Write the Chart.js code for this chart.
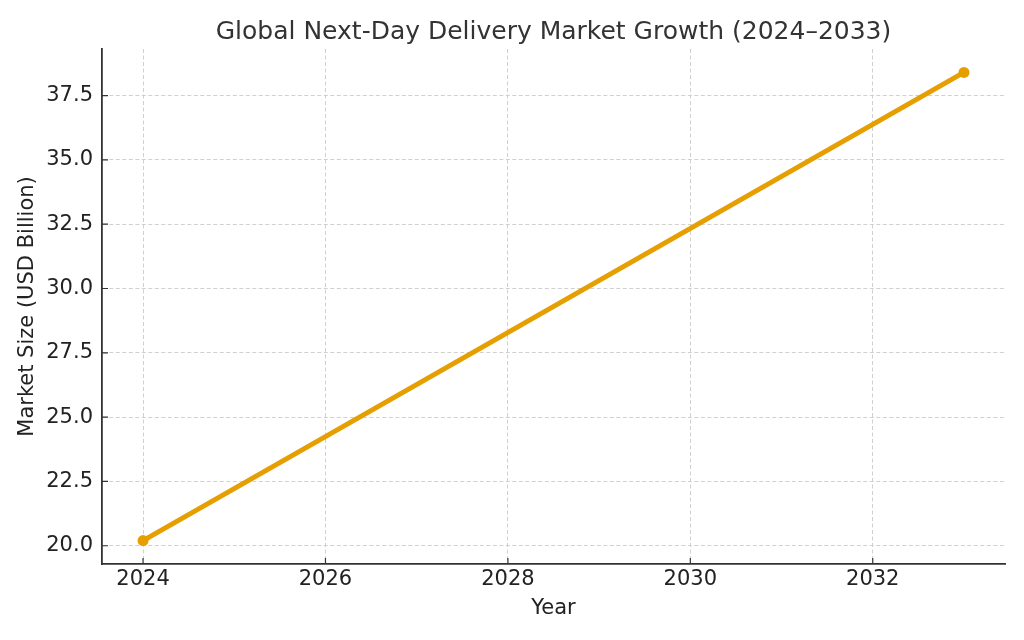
<!DOCTYPE html>
<html><head><meta charset="utf-8">
<script src="https://cdn.jsdelivr.net/npm/chart.js@4/dist/chart.umd.min.js"></script>
<style>html,body{margin:0;padding:0;background:#fff}#wrap{width:1024px;height:640px}</style>
</head><body><div id="wrap"><canvas id="c" width="1024" height="640"></canvas></div>
<script>
const years = [2024, 2033];
const marketSize = [20.2, 38.4];
const xTicks = [2024, 2026, 2028, 2030, 2032];
const yTicks = [20.0, 22.5, 25.0, 27.5, 30.0, 32.5, 35.0, 37.5];
const titleText = 'Global Next-Day Delivery Market Growth (2024–2033)';
const xTitle = 'Year';
const yTitle = 'Market Size (USD Billion)';

const FONT = "'DejaVu Sans', sans-serif";
const inwardTicks = {
  id: 'inwardTicks',
  afterDraw(chart) {
    const {ctx, chartArea: a, scales: {x, y}} = chart;
    ctx.save();
    ctx.strokeStyle = '#333';
    ctx.lineWidth = 1.2;
    ctx.beginPath();
    x.ticks.forEach(t => { const p = x.getPixelForValue(t.value); ctx.moveTo(p, a.bottom); ctx.lineTo(p, a.bottom - 6); });
    y.ticks.forEach(t => { const p = y.getPixelForValue(t.value); ctx.moveTo(a.left, p); ctx.lineTo(a.left + 6, p); });
    ctx.stroke();
    // title centred over the plot area (matplotlib style)
    ctx.fillStyle = '#333';
    ctx.font = "25px " + FONT;
    ctx.textAlign = 'center';
    ctx.textBaseline = 'alphabetic';
    ctx.fillText(titleText, (a.left + a.right) / 2, 38.5);
    ctx.restore();
  }
};

new Chart(document.getElementById('c'), {
  type: 'line',
  data: {
    datasets: [{
      data: years.map((yr, i) => ({x: yr, y: marketSize[i]})),
      borderColor: '#E69F00',
      backgroundColor: '#E69F00',
      borderWidth: 5,
      pointRadius: 5.5,
      pointBorderWidth: 0,
      pointHoverRadius: 5.5,
      borderCapStyle: 'round'
    }]
  },
  options: {
    responsive: false,
    animation: false,
    events: [],
    layout: {padding: {left: 0, right: 19, top: 49, bottom: 0}},
    plugins: {
      legend: {display: false},
      tooltip: {enabled: false},
      title: {display: false}
    },
    scales: {
      x: {
        type: 'linear', min: 2023.55, max: 2033.45,
        afterBuildTicks: s => { s.ticks = xTicks.map(v => ({value: v})); },
        afterFit: s => { s.height = 76; },
        ticks: {color: '#222', font: {family: FONT, size: 21}, padding: 3, callback: v => String(v)},
        grid: {color: '#d0d0d0', lineWidth: 1, drawTicks: false},
        border: {display: true, color: '#333', width: 1.8, dash: [4, 2.5]},
        title: {display: true, text: xTitle, color: '#222', font: {family: FONT, size: 21}, padding: {top: 4, bottom: 19}}
      },
      y: {
        type: 'linear', min: 19.29, max: 39.31,
        afterBuildTicks: s => { s.ticks = yTicks.map(v => ({value: v})); },
        afterFit: s => { s.width = 102; },
        ticks: {color: '#222', font: {family: FONT, size: 21}, padding: 9, callback: v => v.toFixed(1)},
        grid: {color: '#d0d0d0', lineWidth: 1, drawTicks: false},
        border: {display: true, color: '#333', width: 1.8, dash: [4, 2.5]},
        title: {display: true, text: yTitle, color: '#222', font: {family: FONT, size: 21}, padding: {top: 15, bottom: 15}}
      }
    }
  },
  plugins: [inwardTicks]
});
</script></body></html>
